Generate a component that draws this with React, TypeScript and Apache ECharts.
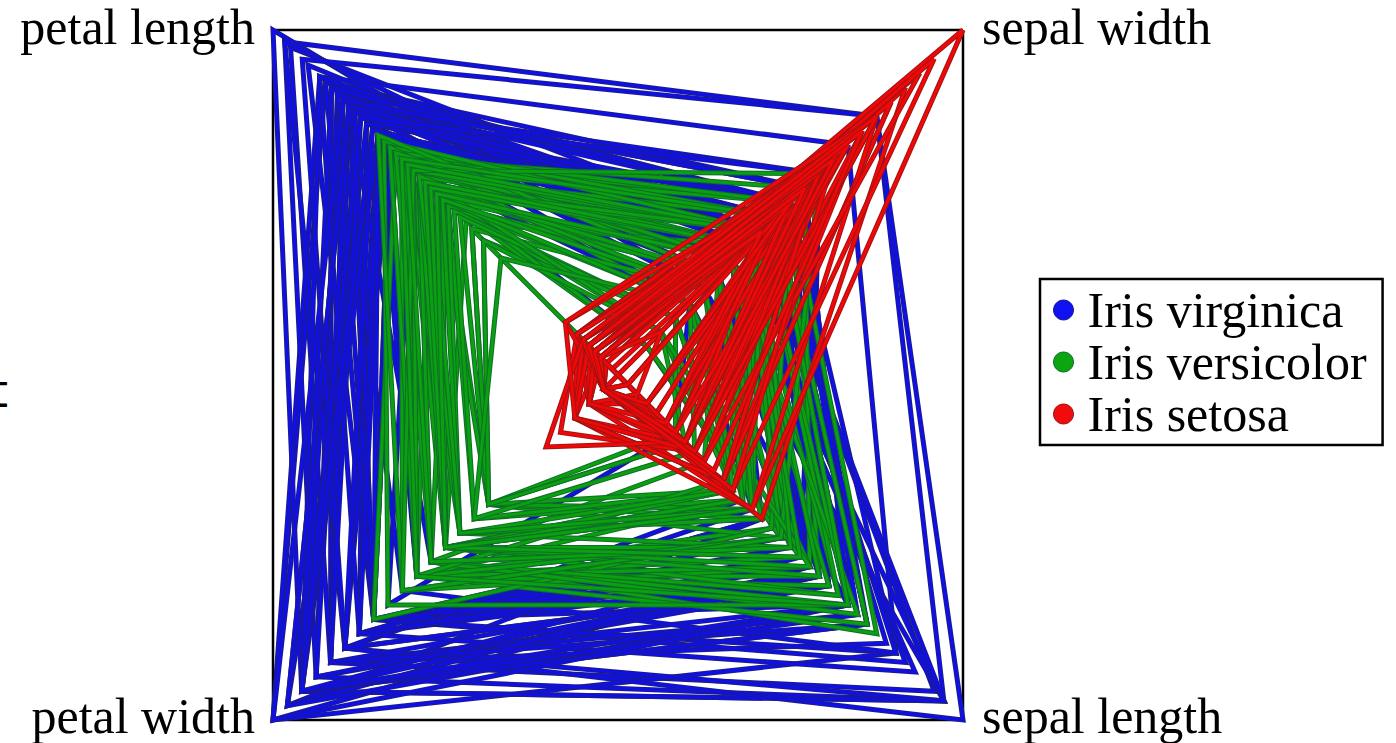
import React, { useEffect, useRef } from "react";
import * as echarts from "echarts";

// Axis order as drawn counter-clockwise from the top right corner
const axisNames = ["sepal width", "petal length", "petal width", "sepal length"];
const axisMins = [2.0, 1.0, 0.1, 4.3];
const axisMaxs = [4.4, 6.9, 2.5, 7.9];
const speciesNames = ["Iris virginica", "Iris versicolor", "Iris setosa"];
const speciesCores = ["#1010e6", "#0aa00f", "#f00808"];
const speciesEdges = ["#1c1c8c", "#0f6e2a", "#a01414"];
const legendColors = ["#1010f0", "#0aa50f", "#f00c0c"];

// rows: sepal length, sepal width, petal length, petal width
const setosa = [
  [5.1,3.5,1.4,0.2],[4.9,3.0,1.4,0.2],[4.7,3.2,1.3,0.2],[4.6,3.1,1.5,0.2],[5.0,3.6,1.4,0.2],
  [5.4,3.9,1.7,0.4],[4.6,3.4,1.4,0.3],[5.0,3.4,1.5,0.2],[4.4,2.9,1.4,0.2],[4.9,3.1,1.5,0.1],
  [5.4,3.7,1.5,0.2],[4.8,3.4,1.6,0.2],[4.8,3.0,1.4,0.1],[4.3,3.0,1.1,0.1],[5.8,4.0,1.2,0.2],
  [5.7,4.4,1.5,0.4],[5.4,3.9,1.3,0.4],[5.1,3.5,1.4,0.3],[5.7,3.8,1.7,0.3],[5.1,3.8,1.5,0.3],
  [5.4,3.4,1.7,0.2],[5.1,3.7,1.5,0.4],[4.6,3.6,1.0,0.2],[5.1,3.3,1.7,0.5],[4.8,3.4,1.9,0.2],
  [5.0,3.0,1.6,0.2],[5.0,3.4,1.6,0.4],[5.2,3.5,1.5,0.2],[5.2,3.4,1.4,0.2],[4.7,3.2,1.6,0.2],
  [4.8,3.1,1.6,0.2],[5.4,3.4,1.5,0.4],[5.2,4.1,1.5,0.1],[5.5,4.2,1.4,0.2],[4.9,3.1,1.5,0.2],
  [5.0,3.2,1.2,0.2],[5.5,3.5,1.3,0.2],[4.9,3.6,1.4,0.1],[4.4,3.0,1.3,0.2],[5.1,3.4,1.5,0.2],
  [5.0,3.5,1.3,0.3],[4.5,2.3,1.3,0.3],[4.4,3.2,1.3,0.2],[5.0,3.5,1.6,0.6],[5.1,3.8,1.9,0.4],
  [4.8,3.0,1.4,0.3],[5.1,3.8,1.6,0.2],[4.6,3.2,1.4,0.2],[5.3,3.7,1.5,0.2],[5.0,3.3,1.4,0.2],
];
const versicolor = [
  [7.0,3.2,4.7,1.4],[6.4,3.2,4.5,1.5],[6.9,3.1,4.9,1.5],[5.5,2.3,4.0,1.3],[6.5,2.8,4.6,1.5],
  [5.7,2.8,4.5,1.3],[6.3,3.3,4.7,1.6],[4.9,2.4,3.3,1.0],[6.6,2.9,4.6,1.3],[5.2,2.7,3.9,1.4],
  [5.0,2.0,3.5,1.0],[5.9,3.0,4.2,1.5],[6.0,2.2,4.0,1.0],[6.1,2.9,4.7,1.4],[5.6,2.9,3.6,1.3],
  [6.7,3.1,4.4,1.4],[5.6,3.0,4.5,1.5],[5.8,2.7,4.1,1.0],[6.2,2.2,4.5,1.5],[5.6,2.5,3.9,1.1],
  [5.9,3.2,4.8,1.8],[6.1,2.8,4.0,1.3],[6.3,2.5,4.9,1.5],[6.1,2.8,4.7,1.2],[6.4,2.9,4.3,1.3],
  [6.6,3.0,4.4,1.4],[6.8,2.8,4.8,1.4],[6.7,3.0,5.0,1.7],[6.0,2.9,4.5,1.5],[5.7,2.6,3.5,1.0],
  [5.5,2.4,3.8,1.1],[5.5,2.4,3.7,1.0],[5.8,2.7,3.9,1.2],[6.0,2.7,5.1,1.6],[5.4,3.0,4.5,1.5],
  [6.0,3.4,4.5,1.6],[6.7,3.1,4.7,1.5],[6.3,2.3,4.4,1.3],[5.6,3.0,4.1,1.3],[5.5,2.5,4.0,1.3],
  [5.5,2.6,4.4,1.2],[6.1,3.0,4.6,1.4],[5.8,2.6,4.0,1.2],[5.0,2.3,3.3,1.0],[5.6,2.7,4.2,1.3],
  [5.7,3.0,4.2,1.2],[5.7,2.9,4.2,1.3],[6.2,2.9,4.3,1.3],[5.1,2.5,3.0,1.1],[5.7,2.8,4.1,1.3],
];
const virginica = [
  [6.3,3.3,6.0,2.5],[5.8,2.7,5.1,1.9],[7.1,3.0,5.9,2.1],[6.3,2.9,5.6,1.8],[6.5,3.0,5.8,2.2],
  [7.6,3.0,6.6,2.1],[4.9,2.5,4.5,1.7],[7.3,2.9,6.3,1.8],[6.7,2.5,5.8,1.8],[7.2,3.6,6.1,2.5],
  [6.5,3.2,5.1,2.0],[6.4,2.7,5.3,1.9],[6.8,3.0,5.5,2.1],[5.7,2.5,5.0,2.0],[5.8,2.8,5.1,2.4],
  [6.4,3.2,5.3,2.3],[6.5,3.0,5.5,1.8],[7.7,3.8,6.7,2.2],[7.7,2.6,6.9,2.3],[6.0,2.2,5.0,1.5],
  [6.9,3.2,5.7,2.3],[5.6,2.8,4.9,2.0],[7.7,2.8,6.7,2.0],[6.3,2.7,4.9,1.8],[6.7,3.3,5.7,2.1],
  [7.2,3.2,6.0,1.8],[6.2,2.8,4.8,1.8],[6.1,3.0,4.9,1.8],[6.4,2.8,5.6,2.1],[7.2,3.0,5.8,1.6],
  [7.4,2.8,6.1,1.9],[7.9,3.8,6.4,2.0],[6.4,2.8,5.6,2.2],[6.3,2.8,5.1,1.5],[6.1,2.6,5.6,1.4],
  [7.7,3.0,6.1,2.3],[6.3,3.4,5.6,2.4],[6.4,3.1,5.5,1.8],[6.0,3.0,4.8,1.8],[6.9,3.1,5.4,2.1],
  [6.7,3.1,5.6,2.4],[6.9,3.1,5.1,2.3],[5.8,2.7,5.1,1.9],[6.8,3.2,5.9,2.3],[6.7,3.3,5.7,2.5],
  [6.7,3.0,5.2,2.3],[6.3,2.5,5.0,1.9],[6.5,3.0,5.2,2.0],[6.2,3.4,5.4,2.3],[5.9,3.0,5.1,1.8],
];
const speciesRows = [virginica, versicolor, setosa];

const SERIF = "'Liberation Serif', serif";
const FONT_SIZE = 50;

export default function App() {
  const ref = useRef<HTMLDivElement>(null);
  useEffect(() => {
    document.body.style.margin = "0";
    const chart = echarts.init(ref.current!, undefined, { renderer: "svg" });
    const label = (text: string, x: number, y: number, align: string) => ({
      type: "text",
      x,
      y,
      silent: true,
      style: { text, fontFamily: SERIF, fontSize: FONT_SIZE, fill: "#000", textAlign: align, textVerticalAlign: "middle" },
    });
    chart.setOption({
      animation: false,
      backgroundColor: "#fff",
      radar: {
        center: [618, 375],
        radius: 487.9,
        startAngle: 45,
        shape: "polygon",
        splitNumber: 1,
        indicator: axisNames.map((name, i) => ({ name, min: axisMins[i], max: axisMaxs[i] })),
        axisName: { show: false },
        axisLine: { show: false },
        axisTick: { show: false },
        axisLabel: { show: false },
        splitArea: { show: false },
        splitLine: { show: true, lineStyle: { color: "#000", width: 2.5 } },
      },
      legend: {
        show: true,
        left: 1040,
        top: 279,
        orient: "vertical",
        data: speciesNames.map((name, i) => ({
          name,
          icon: "circle",
          itemStyle: { color: legendColors[i], borderColor: speciesEdges[i], borderWidth: 1 },
          lineStyle: { width: 0, opacity: 0 },
        })),
        selectedMode: false,
        itemWidth: 20,
        itemHeight: 20,
        itemGap: 2,
        padding: [6, 16, 6, 13],
        borderColor: "#000",
        borderWidth: 2.5,
        textStyle: { fontFamily: SERIF, fontSize: FONT_SIZE, color: "#000", padding: [4, 0, 0, 9], lineHeight: 44 },
      },
      graphic: [
        label("petal length", 255, 27, "right"),
        label("sepal width", 982, 27, "left"),
        label("petal width", 255, 716, "right"),
        label("sepal length", 982, 716, "left"),
        {
          type: "text",
          x: -10,
          y: 391,
          silent: true,
          style: { text: "t", fontFamily: "'DejaVu Sans', sans-serif", fontSize: 46, fill: "#000", textAlign: "left", textVerticalAlign: "middle" },
        },
      ],
      series: speciesNames.map((name, i) => ({
        type: "radar",
        name,
        symbol: "none",
        silent: true,
        itemStyle: { color: speciesCores[i] },
        lineStyle: { color: speciesCores[i], width: 3, opacity: 1, join: "miter", miterLimit: 20 },
        data: speciesRows[i].flatMap(([sl, sw, pl, pw]) => [
          { name, value: [sw, pl, pw, sl], lineStyle: { color: speciesEdges[i], width: 5, opacity: 1 } },
          { name, value: [sw, pl, pw, sl], lineStyle: { color: speciesCores[i], width: 3, opacity: 1 } },
        ]),
      })),
    });
    return () => chart.dispose();
  }, []);
  return <div ref={ref} style={{ width: 1396, height: 743 }} />;
}
